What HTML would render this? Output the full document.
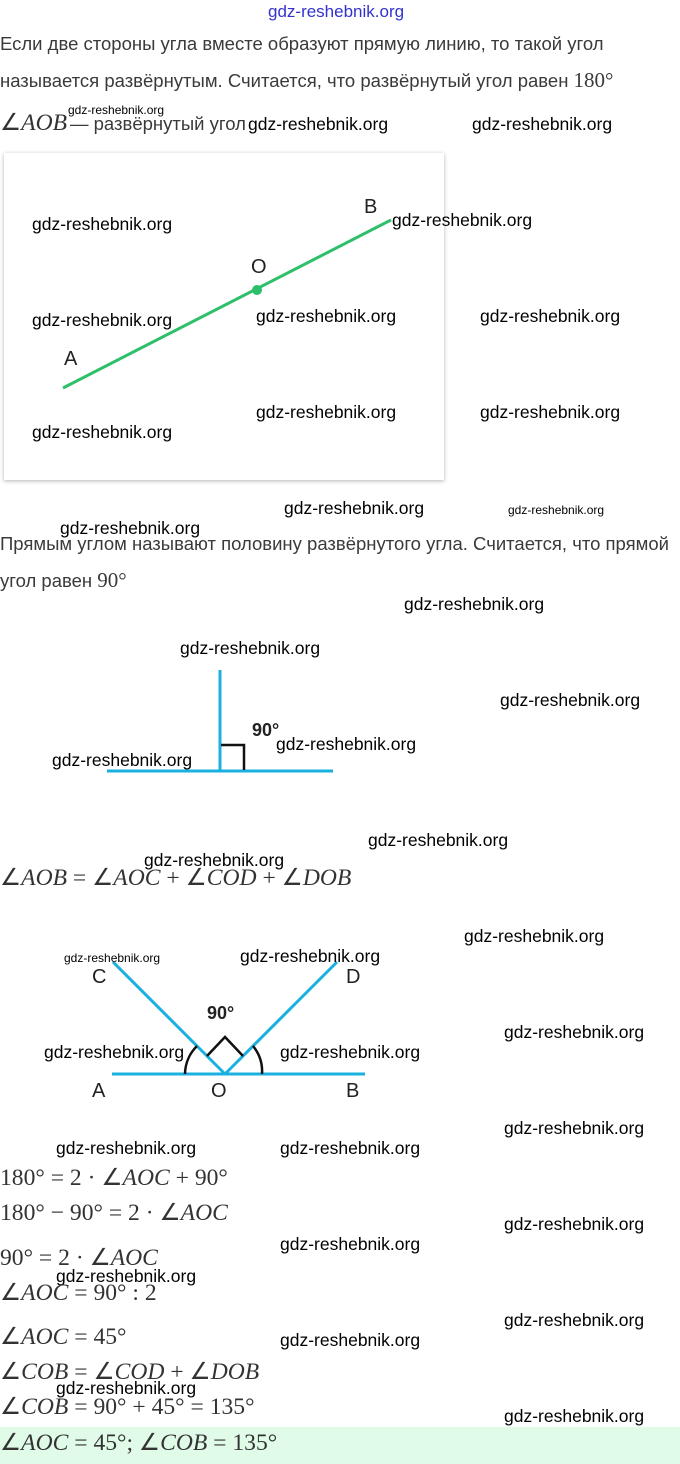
<!DOCTYPE html>
<html><head><meta charset="utf-8"><style>
body{margin:0;width:680px;height:1464px;position:relative;background:#fff;overflow:hidden;font-family:"Liberation Sans",sans-serif;color:#333}
.t{position:absolute;font-size:18.5px;white-space:nowrap;color:#3a3a3a}
.m{position:absolute;font-family:"Liberation Serif",serif;font-size:23.6px;white-space:nowrap;color:#333;line-height:1}
.m i{font-style:italic}
.w{position:absolute;font-size:17.5px;color:#000;white-space:nowrap;line-height:1}
.s{font-size:12px}
.L{position:absolute;font-size:20px;color:#222;font-family:"Liberation Sans Narrow","Liberation Sans",sans-serif}
</style></head><body>
<div class="w" style="left:268px;top:3px;color:#3333cc;font-size:17px">gdz-reshebnik.org</div>
<div class="t" style="left:0;top:33px">Если две стороны угла вместе образуют прямую линию, то такой угол</div>
<div class="t" style="left:0;top:68px">называется развёрнутым. Считается, что развёрнутый угол равен <span style="font-family:'Liberation Serif',serif;font-size:21px">180°</span></div>
<div class="m" style="left:0;top:112px">∠<i>AOB</i></div>
<div class="t" style="left:70px;top:113px">— развёрнутый угол</div>
<div class="w s" style="left:68px;top:104px">gdz-reshebnik.org</div>
<div class="w" style="left:248px;top:116px">gdz-reshebnik.org</div>
<div class="w" style="left:472px;top:116px">gdz-reshebnik.org</div>

<div style="position:absolute;left:4px;top:153px;width:440px;height:327px;background:#fff;box-shadow:0 1px 4px rgba(0,0,0,.3)"></div>
<svg style="position:absolute;left:0;top:0" width="680" height="1464">
<line x1="63" y1="388" x2="391" y2="220" stroke="#2dbf6a" stroke-width="3"/>
<circle cx="257" cy="290" r="5" fill="#2dbf6a"/>
<g stroke="#1ab0e0" stroke-width="3" fill="none">
<line x1="220" y1="670" x2="220" y2="771"/>
<line x1="107" y1="771" x2="333" y2="771"/>
<line x1="112" y1="1074" x2="365" y2="1074"/>
<line x1="225" y1="1074" x2="113" y2="962"/>
<line x1="225" y1="1074" x2="337" y2="962"/>
</g>
<g stroke="#111" stroke-width="2.5" fill="none">
<polyline points="221,745 244,745 244,770"/>
<polyline points="207,1056 225,1037 243,1056"/>
<path d="M185,1074 A40,40 0 0 1 197,1046"/>
<path d="M253,1046 A40,40 0 0 1 262,1074"/>
</g>
</svg>
<div class="L" style="left:364px;top:196px">B</div>
<div class="L" style="left:251px;top:256px">O</div>
<div class="L" style="left:64px;top:348px">A</div>
<div class="w" style="left:392px;top:212px">gdz-reshebnik.org</div>
<div class="w" style="left:32px;top:216px">gdz-reshebnik.org</div>
<div class="w" style="left:32px;top:312px">gdz-reshebnik.org</div>
<div class="w" style="left:256px;top:308px">gdz-reshebnik.org</div>
<div class="w" style="left:480px;top:308px">gdz-reshebnik.org</div>
<div class="w" style="left:256px;top:404px">gdz-reshebnik.org</div>
<div class="w" style="left:480px;top:404px">gdz-reshebnik.org</div>
<div class="w" style="left:32px;top:424px">gdz-reshebnik.org</div>
<div class="w" style="left:284px;top:500px">gdz-reshebnik.org</div>
<div class="w s" style="left:508px;top:504px">gdz-reshebnik.org</div>
<div class="w" style="left:60px;top:520px">gdz-reshebnik.org</div>
<div class="t" style="left:0;top:533px">Прямым углом называют половину развёрнутого угла. Считается, что прямой</div>
<div class="t" style="left:0;top:568px">угол равен <span style="font-family:'Liberation Serif',serif;font-size:21px">90°</span></div>
<div class="w" style="left:404px;top:596px">gdz-reshebnik.org</div>
<div class="w" style="left:180px;top:640px">gdz-reshebnik.org</div>
<div class="w" style="left:500px;top:692px">gdz-reshebnik.org</div>
<div class="L" style="left:252px;top:720px;font-weight:bold;font-family:'Liberation Sans',sans-serif;font-size:18px">90°</div>
<div class="w" style="left:276px;top:736px">gdz-reshebnik.org</div>
<div class="w" style="left:52px;top:752px">gdz-reshebnik.org</div>
<div class="w" style="left:368px;top:832px">gdz-reshebnik.org</div>
<div class="w" style="left:144px;top:852px">gdz-reshebnik.org</div>
<div class="m" style="left:0;top:867px">∠<i>AOB</i> = ∠<i>AOC</i> + ∠<i>COD</i> + ∠<i>DOB</i></div>
<div class="w" style="left:464px;top:928px">gdz-reshebnik.org</div>
<div class="w s" style="left:64px;top:952px">gdz-reshebnik.org</div>
<div class="w" style="left:240px;top:948px">gdz-reshebnik.org</div>
<div class="L" style="left:92px;top:966px">C</div>
<div class="L" style="left:346px;top:966px">D</div>
<div class="L" style="left:207px;top:1003px;font-weight:bold;font-family:'Liberation Sans',sans-serif;font-size:18px">90°</div>
<div class="w" style="left:504px;top:1024px">gdz-reshebnik.org</div>
<div class="w" style="left:44px;top:1044px">gdz-reshebnik.org</div>
<div class="w" style="left:280px;top:1044px">gdz-reshebnik.org</div>
<div class="L" style="left:92px;top:1080px">A</div>
<div class="L" style="left:211px;top:1080px">O</div>
<div class="L" style="left:346px;top:1080px">B</div>
<div class="w" style="left:504px;top:1120px">gdz-reshebnik.org</div>
<div class="w" style="left:56px;top:1140px">gdz-reshebnik.org</div>
<div class="w" style="left:280px;top:1140px">gdz-reshebnik.org</div>
<div class="m" style="left:0;top:1167px">180° = 2 · ∠<i>AOC</i> + 90°</div>
<div class="m" style="left:0;top:1202px">180° − 90° = 2 · ∠<i>AOC</i></div>
<div class="w" style="left:504px;top:1216px">gdz-reshebnik.org</div>
<div class="w" style="left:280px;top:1236px">gdz-reshebnik.org</div>
<div class="m" style="left:0;top:1247px">90° = 2 · ∠<i>AOC</i></div>
<div class="w" style="left:56px;top:1268px">gdz-reshebnik.org</div>
<div class="m" style="left:0;top:1282px">∠<i>AOC</i> = 90° : 2</div>
<div class="w" style="left:504px;top:1312px">gdz-reshebnik.org</div>
<div class="w" style="left:280px;top:1332px">gdz-reshebnik.org</div>
<div class="m" style="left:0;top:1326px">∠<i>AOC</i> = 45°</div>
<div class="m" style="left:0;top:1361px">∠<i>COB</i> = ∠<i>COD</i> + ∠<i>DOB</i></div>
<div class="w" style="left:56px;top:1380px">gdz-reshebnik.org</div>
<div class="m" style="left:0;top:1396px">∠<i>COB</i> = 90° + 45° = 135°</div>
<div class="w" style="left:504px;top:1408px">gdz-reshebnik.org</div>
<div style="position:absolute;left:0;top:1427px;width:680px;height:37px;background:#e0fbe8"></div>
<div class="m" style="left:0;top:1432px">∠<i>AOC</i> = 45°; ∠<i>COB</i> = 135°</div>
</body></html>
